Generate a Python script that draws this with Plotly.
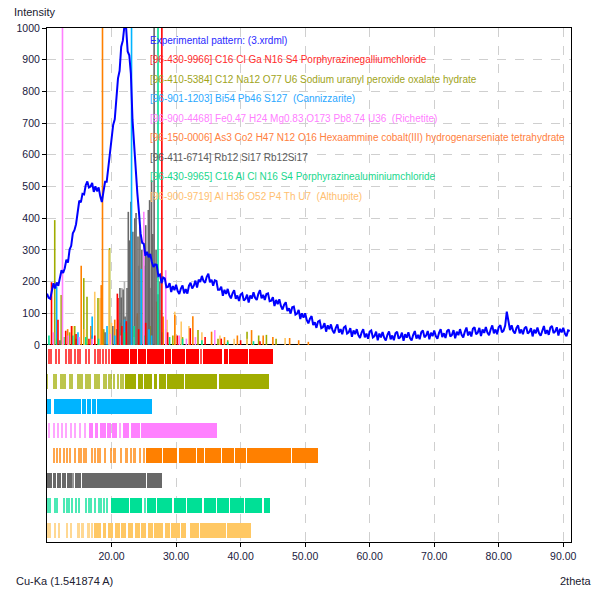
import numpy as np
import plotly.graph_objects as go

# ---------------- experimental pattern ----------------
two_theta = np.round(np.arange(10.0, 91.001, 0.25), 2)
intensity = [
    162, 149, 146, 169, 195, 178, 197, 187, 219, 236, 227, 242, 269, 260, 301, 313,
    352, 362, 381, 424, 455, 450, 477, 475, 504, 516, 497, 500, 511, 483, 501, 485,
    497, 469, 451, 484, 515, 515, 562, 587, 649, 694, 712, 767, 841, 865, 941, 960,
    1007, 1004, 926, 914, 855, 710, 622, 532, 479, 419, 352, 322, 319, 281, 294, 277,
    287, 262, 246, 254, 253, 218, 222, 195, 213, 210, 182, 183, 195, 167, 186, 173,
    190, 170, 161, 178, 188, 163, 176, 162, 187, 196, 178, 187, 203, 181, 206, 199,
    218, 202, 196, 215, 225, 198, 206, 187, 204, 202, 174, 174, 184, 155, 174, 161,
    177, 157, 147, 163, 173, 146, 156, 139, 159, 163, 140, 145, 159, 134, 156, 147,
    166, 149, 142, 161, 173, 147, 158, 142, 161, 163, 138, 140, 151, 123, 142, 129,
    144, 123, 112, 127, 135, 107, 116, 99, 119, 121, 96, 99, 111, 82, 100, 86,
    100, 79, 68, 83, 91, 63, 72, 54, 74, 77, 53, 56, 69, 42, 62, 50,
    65, 46, 37, 54, 65, 39, 50, 34, 55, 59, 36, 40, 53, 26, 46, 34,
    50, 31, 22, 39, 50, 24, 36, 20, 42, 46, 24, 28, 42, 15, 36, 24,
    41, 23, 14, 32, 43, 18, 30, 15, 37, 42, 20, 25, 39, 13, 34, 23,
    40, 22, 14, 32, 44, 20, 32, 18, 40, 46, 24, 30, 44, 18, 39, 28,
    46, 28, 20, 38, 50, 25, 37, 22, 44, 49, 27, 32, 47, 21, 42, 31,
    50, 32, 24, 42, 55, 30, 42, 27, 51, 56, 34, 39, 54, 28, 49, 38,
    57, 39, 31, 49, 62, 37, 49, 34, 57, 62, 40, 45, 61, 105, 76, 47,
    62, 44, 36, 54, 62, 37, 49, 34, 53, 58, 36, 41, 53, 27, 48, 37,
    55, 37, 29, 47, 60, 35, 47, 32, 55, 60, 38, 43, 56, 30, 51, 40,
    54, 36, 28, 46, 44,
]

# ---------------- reference stick patterns (2theta, intensity) ----------------
red_peak_pos = [10.7, 11.7, 12.9, 13.8, 14.5, 16.5, 17.4, 20.9, 21.0, 21.6, 22.3, 24.2, 25.3, 27.8, 28.7, 30.2, 32.2, 34.5, 37.0, 40.0, 43.0]
red_peak_int = [198, 80, 45, 60, 35, 20, 30, 162, 148, 60, 75, 50, 70, 1000, 40, 30, 53, 25, 20, 15, 12]
olive_peak_pos = [11.2, 12.2, 13.5, 14.3, 15.7, 16.2, 17.9, 18.8, 19.7, 21.5, 22.6, 24.0, 26.0, 28.4, 29.5, 31.0, 33.4, 36.5, 38.0, 41.0, 42.8, 44.0, 45.5]
olive_peak_int = [394, 158, 40, 60, 211, 152, 148, 50, 306, 70, 40, 90, 60, 50, 30, 25, 47, 20, 15, 42, 30, 32, 20]
cyan_peak_pos = [11.5, 14.8, 17.0, 19.3, 20.5, 22.0, 23.1, 24.6, 25.8, 26.2]
cyan_peak_int = [184, 40, 90, 60, 30, 80, 1000, 240, 50, 30]
pink_peak_pos = [11.0, 12.4, 13.3, 15.0, 17.0, 19.8, 21.5, 23.5, 25.0, 28.4, 30.5, 31.6, 33.0, 36.0]
pink_peak_int = [40, 1000, 30, 25, 20, 35, 30, 25, 420, 236, 30, 20, 25, 47]
orange_peak_pos = [13.2, 15.3, 16.8, 18.4, 18.6, 20.5, 22.0, 24.0, 26.3, 27.0, 28.0, 29.8, 32.6, 35.5, 37.5, 39.5, 41.7, 43.5, 45.0, 47.6, 49.0, 50.5]
orange_peak_int = [50, 250, 60, 189, 1000, 80, 70, 100, 120, 137, 90, 95, 91, 42, 25, 30, 47, 30, 25, 22, 15, 10]
gray_peak_pos = [12.0, 14.5, 17.0, 19.0, 20.2, 21.3, 21.5, 21.8, 22.1, 22.4, 22.6, 22.8, 23.0, 23.3, 23.6, 23.8, 24.1, 24.4, 24.7, 25.0, 25.3, 25.5, 25.7, 25.9, 26.2, 26.4, 26.6, 26.9, 27.2, 27.5]
gray_peak_int = [15, 20, 30, 40, 60, 180, 150, 175, 90, 180, 420, 330, 452, 357, 400, 416, 342, 373, 300, 250, 378, 280, 426, 457, 520, 350, 1000, 300, 160, 200]
lgray_peak_pos = [21.6, 22.0, 22.9, 24.2, 25.1, 26.0, 26.8]
lgray_peak_int = [180, 200, 230, 250, 300, 180, 250]
green_peak_pos = [10.3, 11.5, 12.8, 14.0, 16.0, 18.0, 20.8, 22.0, 23.5, 25.2, 27.2, 27.8, 29.0, 31.0, 34.0, 38.0, 42.0]
green_peak_int = [30, 20, 25, 30, 25, 20, 50, 40, 60, 30, 1000, 40, 25, 20, 15, 10, 12]
lorange_peak_pos = [12.5, 14.0, 15.8, 17.4, 18.2, 19.6, 20.0, 21.0, 23.5, 27.5, 28.6, 29.8, 30.8, 32.0, 34.0, 36.8, 39.0, 41.0, 46.9]
lorange_peak_int = [25, 60, 50, 168, 148, 300, 70, 80, 60, 110, 80, 105, 74, 60, 40, 30, 20, 20, 22]

# ---------------- phase bars (segments in 2theta) ----------------
red_bar_start = [10.16, 10.52, 11.35, 11.71, 12.85, 13.36, 13.67, 14.29, 14.66, 14.97, 15.84, 16.36, 17.29, 17.75, 18.07, 18.58, 18.99, 19.46,
                 19.98, 22.87, 24.16, 25.56, 28.30, 29.33, 31.56, 33.73, 34.25, 37.35, 38.13, 41.23]
red_bar_end = [10.42, 10.83, 11.56, 11.97, 13.00, 13.57, 13.83, 14.50, 14.86, 15.12, 16.21, 16.52, 17.65, 17.96, 18.22, 18.79, 19.30, 19.72,
               22.72, 24.01, 25.40, 28.14, 29.18, 31.40, 33.57, 34.09, 37.19, 37.97, 41.08, 44.95]
olive_bar_start = [10.00, 10.94, 11.35, 12.07, 12.38, 12.74, 13.42, 13.73, 14.66, 15.02, 15.33, 16.00, 16.31, 16.62, 17.29, 17.65, 18.02,
                   18.69, 19.10, 19.46, 19.88, 20.24, 20.86, 21.27, 21.68, 22.04, 24.06, 25.10, 26.54, 27.32, 28.61, 31.45, 36.62]
olive_bar_end = [10.06, 11.20, 11.56, 12.28, 12.54, 12.95, 13.62, 13.88, 14.86, 15.22, 15.53, 16.21, 16.47, 16.83, 17.50, 17.86, 18.17,
                 18.89, 19.30, 19.67, 20.08, 20.44, 21.17, 21.58, 21.89, 23.85, 24.89, 26.34, 27.11, 28.40, 31.25, 36.41, 44.42]
cyan_bar_start = [10.00, 11.05, 13.45, 14.07, 15.37, 16.14, 16.92, 17.70]
cyan_bar_end = [10.65, 13.38, 14.00, 15.30, 16.07, 16.85, 17.63, 26.34]
pink_bar_start = [10.16, 10.93, 11.55, 12.23, 12.90, 13.63, 14.29, 14.96, 15.74, 16.51, 17.40, 18.17, 19.36, 20.14, 21.16, 21.78, 23.09, 24.64]
pink_bar_end = [10.42, 11.19, 11.81, 12.48, 13.16, 13.88, 14.56, 15.22, 16.11, 17.13, 17.91, 19.10, 19.98, 20.85, 21.53, 22.71, 24.37, 36.41]
orange_bar_start = [10.94, 11.45, 11.97, 12.49, 13.00, 13.52, 14.29, 14.81, 15.12, 15.59, 15.90, 16.88, 17.40, 17.76, 18.17, 18.95, 19.72,
                    20.29, 21.27, 22.13, 22.92, 23.39, 24.27, 24.89, 25.40, 27.99, 30.42, 33.26, 34.55, 37.13, 39.20, 41.01, 47.98]
orange_bar_end = [11.09, 11.66, 12.18, 12.69, 13.21, 13.73, 14.50, 15.02, 15.33, 15.79, 16.21, 17.09, 17.60, 17.96, 18.38, 19.21, 20.08,
                  20.70, 21.63, 22.49, 23.23, 23.80, 24.63, 25.25, 27.78, 30.21, 33.05, 34.35, 36.93, 38.99, 40.80, 47.78, 52.00]
gray_bar_start = [10.02, 10.88, 11.50, 12.28, 13.05, 13.98, 14.34, 15.38, 17.81, 25.45]
gray_bar_end = [10.78, 11.40, 12.18, 12.95, 13.88, 14.24, 15.28, 17.71, 25.35, 27.78]
green_bar_start = [10.06, 10.42, 11.20, 11.45, 12.49, 13.00, 13.31, 13.78, 14.45, 14.81, 15.84, 16.41, 16.72, 17.29, 17.91, 18.27, 18.69, 19.10,
                   19.98, 22.92, 24.99, 25.51, 27.06, 29.64, 31.71, 34.29, 36.36, 38.42, 40.75, 43.59]
green_bar_end = [10.27, 10.68, 11.35, 11.61, 12.69, 13.21, 13.52, 13.98, 14.66, 15.02, 16.21, 16.62, 16.98, 17.60, 18.17, 18.43, 19.00, 19.46,
                 22.72, 24.79, 25.30, 26.85, 29.43, 31.50, 34.09, 36.15, 38.22, 40.54, 43.38, 44.62]
lorange_bar_start = [10.06, 10.42, 11.20, 11.71, 13.00, 13.52, 14.66, 15.33, 16.21, 16.88, 17.29, 18.69, 19.46, 20.50, 21.53, 22.56, 23.60,
                     24.63, 25.66, 26.54, 28.25, 29.28, 30.83, 32.12, 33.78, 37.91]
lorange_bar_end = [10.27, 10.63, 11.35, 11.97, 13.26, 13.93, 15.07, 15.69, 16.62, 17.13, 18.43, 19.21, 20.24, 21.27, 22.30, 23.34, 24.37,
                   25.40, 26.44, 27.99, 29.03, 30.57, 31.60, 33.57, 37.70, 41.58]

experimental_label = "Experimental pattern: (3.xrdml)"
phase_labels = [
    "[96-430-9966] C16 Cl Ga N16 S4 Porphyrazinegalliumchloride",
    "[96-410-5384] C12 Na12 O77 U6 Sodium uranyl peroxide oxalate hydrate",
    "[96-901-1203] Bi54 Pb46 S127  (Cannizzarite)",
    "[96-900-4468] Fe0.47 H24 Mg0.83 O173 Pb8.74 U36  (Richetite)",
    "[96-150-0006] As3 Co2 H47 N12 O16 Hexaammine cobalt(III) hydrogenarseniate tetrahydrate",
    "[96-411-6714] Rb12 Si17 Rb12Si17",
    "[96-430-9965] C16 Al Cl N16 S4 Porphyrazinealuminiumchloride",
    "[96-900-9719] Al H35 O52 P4 Th U7  (Althupite)",
]
x_tick_vals = [20, 30, 40, 50, 60, 70, 80, 90]
x_tick_text = ["20.00", "30.00", "40.00", "50.00", "60.00", "70.00", "80.00", "90.00"]
y_tick_vals = [0, 100, 200, 300, 400, 500, 600, 700, 800, 900, 1000]

# ---------------- styling ----------------
phase_colors = ["#ff0000", "#a0ad00", "#00b4ff", "#ff80ff", "#ff8000", "#686868", "#00e096", "#ffc864"]
label_colors = ["#ff2a2a", "#a0a41a", "#2aa8ff", "#ff80ff", "#ff8040", "#5a5a5a", "#1ad88e", "#ffc070"]
FONT = "Liberation Sans"

fig = go.Figure()


def stick_trace(pos, inten, color, width=1.6):
    xs, ys = [], []
    for p, h in zip(pos, inten):
        xs += [p, p, None]
        ys += [0, h, None]
    return go.Scatter(x=xs, y=ys, mode="lines", line=dict(color=color, width=width),
                      hoverinfo="skip", showlegend=False)


fig.add_trace(stick_trace(lgray_peak_pos, lgray_peak_int, "#b4b4b4"))
stick_sets = [
    (olive_peak_pos, olive_peak_int, phase_colors[1]),
    (lorange_peak_pos, lorange_peak_int, phase_colors[7]),
    (orange_peak_pos, orange_peak_int, phase_colors[4]),
    (gray_peak_pos, gray_peak_int, phase_colors[5]),
    (cyan_peak_pos, cyan_peak_int, phase_colors[2]),
    (pink_peak_pos, pink_peak_int, phase_colors[3]),
    (green_peak_pos, green_peak_int, phase_colors[6]),
    (red_peak_pos, red_peak_int, phase_colors[0]),
]
for pos, inten, col in stick_sets:
    fig.add_trace(stick_trace(pos, inten, col))

fig.add_trace(go.Scatter(x=two_theta, y=intensity, mode="lines",
                         line=dict(color="#0000ff", width=2.0), hoverinfo="skip", showlegend=False))

# phase bars below zero
bar_sets = [
    (red_bar_start, red_bar_end),
    (olive_bar_start, olive_bar_end),
    (cyan_bar_start, cyan_bar_end),
    (pink_bar_start, pink_bar_end),
    (orange_bar_start, orange_bar_end),
    (gray_bar_start, gray_bar_end),
    (green_bar_start, green_bar_end),
    (lorange_bar_start, lorange_bar_end),
]
ROW_TOP0 = -12.6
ROW_STEP = 78.2
ROW_H = 47.3
for k, (s, e) in enumerate(bar_sets):
    s = np.array(s)
    e = np.array(e)
    w = e - s
    top = ROW_TOP0 - ROW_STEP * k
    op = np.where(w < 0.45, 0.7, 1.0)
    fig.add_trace(go.Bar(x=(s + e) / 2, y=[ROW_H] * len(s), base=top - ROW_H, width=w,
                         marker=dict(color=phase_colors[k], opacity=op, line=dict(width=0)),
                         hoverinfo="skip", showlegend=False))

# ---------------- layout ----------------
L, R, T, B = 47, 22, 28, 49
W, H = 593, 591
pw, ph = W - L - R, H - T - B


def px_x(px):
    return (px - L) / pw


def px_y(py):
    return (H - B - py) / ph


annotations = []
leg_x = px_x(148)
leg_ys = [40, 59.5, 79, 98.5, 118, 137.5, 157.5, 177, 196.5]
annotations.append(dict(text=experimental_label, x=leg_x, y=px_y(leg_ys[0]), xref="paper", yref="paper",
                        xanchor="left", yanchor="middle", showarrow=False,
                        font=dict(family=FONT, size=10, color="#2a2aff")))
for i, lab in enumerate(phase_labels):
    annotations.append(dict(text=lab, x=leg_x, y=px_y(leg_ys[i + 1]), xref="paper", yref="paper",
                            xanchor="left", yanchor="middle", showarrow=False,
                            font=dict(family=FONT, size=10, color=label_colors[i])))
annotations.append(dict(text="Intensity", x=px_x(12), y=px_y(12), xref="paper", yref="paper",
                        xanchor="left", yanchor="middle", showarrow=False,
                        font=dict(family=FONT, size=11, color="#202030")))
annotations.append(dict(text="Cu-Ka (1.541874 A)", x=px_x(14), y=px_y(581), xref="paper", yref="paper",
                        xanchor="left", yanchor="middle", showarrow=False,
                        font=dict(family=FONT, size=11, color="#202030")))
annotations.append(dict(text="2theta", x=px_x(593), y=px_y(581), xref="paper", yref="paper",
                        xanchor="right", yanchor="middle", showarrow=False,
                        font=dict(family=FONT, size=11, color="#202030")))

fig.update_layout(
    width=W, height=H,
    margin=dict(l=L, r=R, t=T, b=B, pad=0),
    paper_bgcolor="white", plot_bgcolor="white",
    barmode="overlay", bargap=0,
    showlegend=False,
    annotations=annotations,
    xaxis=dict(range=[10.0, 91.2], tickvals=x_tick_vals, ticktext=x_tick_text,
               showgrid=True, gridcolor="#cfcfcf", griddash="dash", gridwidth=1,
               showline=True, linecolor="#000000", linewidth=1, mirror=True,
               ticks="outside", ticklen=4, tickcolor="#000000",
               tickfont=dict(family=FONT, size=10.5, color="#202040"),
               zeroline=False, fixedrange=True),
    yaxis=dict(range=[-621.5, 1000], tickvals=y_tick_vals,
               showgrid=True, gridcolor="#cfcfcf", griddash="dash", gridwidth=1,
               showline=True, linecolor="#000000", linewidth=1, mirror=True,
               ticks="outside", ticklen=4, tickcolor="#000000",
               tickfont=dict(family=FONT, size=10.5, color="#202040"),
               zeroline=True, zerolinecolor="#000000", zerolinewidth=1, fixedrange=True),
)

fig.write_html("out.html")
